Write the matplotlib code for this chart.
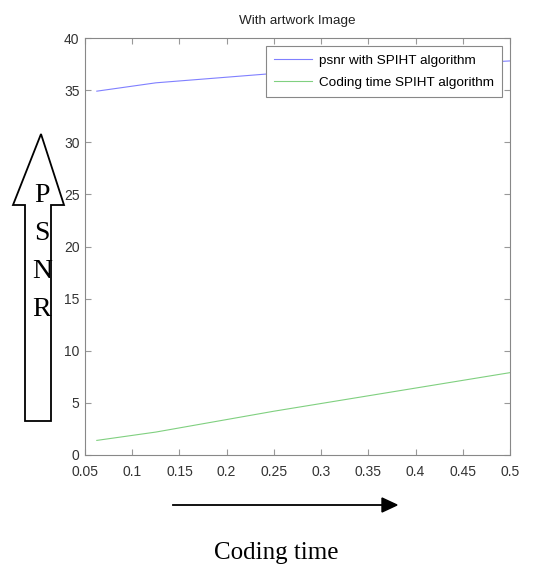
import numpy as np
import matplotlib.pyplot as plt
from matplotlib.patches import Polygon

# data
rate = [0.0625, 0.125, 0.25, 0.5]
psnr = [34.9, 35.7, 36.6, 37.8]
coding_time = [1.4, 2.2, 4.2, 7.9]

W, H = 545, 570


def fx(px):
    return px / W


def fy(py):
    return 1 - py / H


fig = plt.figure(figsize=(5.45, 5.7), dpi=100)
ax = fig.add_axes([fx(85), fy(455), fx(510) - fx(85), fy(38) - fy(455)])

ax.plot(rate, psnr, color='#8080ff', lw=0.8, label='psnr with SPIHT algorithm')
ax.plot(rate, coding_time, color='#80d080', lw=0.8, label='Coding time SPIHT algorithm')

ax.set_xlim(0.05, 0.5)
ax.set_ylim(0, 40)
ax.set_xticks(np.arange(0.05, 0.501, 0.05))
ax.set_xticklabels(['0.05', '0.1', '0.15', '0.2', '0.25', '0.3', '0.35', '0.4', '0.45', '0.5'])
ax.set_yticks(np.arange(0, 41, 5))
ax.tick_params(direction='in', top=True, right=True, length=4, width=0.8, color='#999999')
ax.tick_params(labelsize=10, labelcolor='#333333')
ax.tick_params(axis='x', pad=7)
ax.tick_params(axis='y', pad=4)
for s in ax.spines.values():
    s.set_color('#888888')
    s.set_linewidth(0.8)
ax.set_title('With artwork Image', fontsize=9.7, color='#222222', pad=10,
             family='Liberation Sans')
for lab in ax.get_xticklabels() + ax.get_yticklabels():
    lab.set_family('Liberation Sans')

leg = ax.legend(loc='upper right', fancybox=False, framealpha=1, borderaxespad=0.6,
                handlelength=2.8, handletextpad=0.5, labelspacing=0.75, borderpad=0.6,
                prop={'family': 'Liberation Sans', 'size': 9.7})
leg.get_frame().set_edgecolor('#888888')
leg.get_frame().set_linewidth(0.8)

# up block arrow with PSNR letters
pts = [(41, 134), (64, 205), (51, 205), (51, 421), (25, 421), (25, 205), (13, 205)]
fig.patches.append(Polygon([(fx(x), fy(y)) for x, y in pts], closed=True, fc='white',
                           ec='black', lw=1.3, transform=fig.transFigure, figure=fig))
for ch, y in zip('PSNR', [196, 234, 272, 310]):
    fig.text(fx(42), fy(y), ch, fontsize=20, family='Liberation Serif', ha='center', va='center')

# right arrow
fig.patches.append(plt.Polygon([(fx(382), fy(498)), (fx(397), fy(505)), (fx(382), fy(512))],
                               closed=True, fc='black', ec='black', transform=fig.transFigure, figure=fig))
fig.lines.append(plt.Line2D([fx(173), fx(384)], [fy(505), fy(505)], color='black', lw=1.3,
                            transform=fig.transFigure, figure=fig))
fig.text(fx(276), fy(553), 'Coding time', fontsize=18, family='Liberation Serif', ha='center', va='center')

fig.savefig('out.png', dpi=100)
